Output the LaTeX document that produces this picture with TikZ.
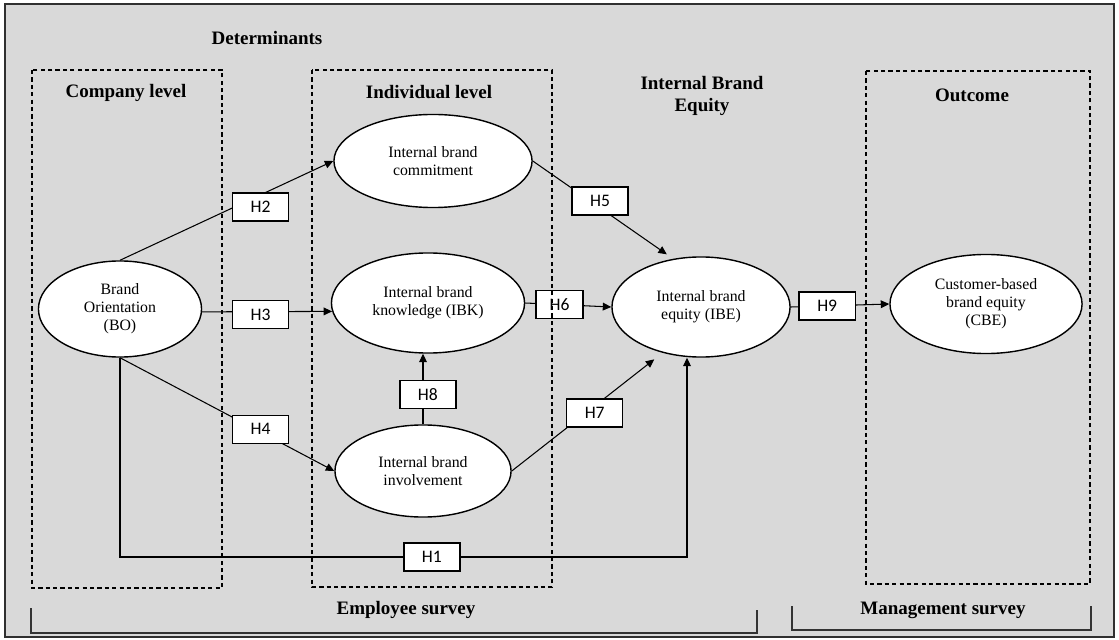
\documentclass[tikz,border=0pt]{standalone}
\usepackage{fontspec}
\setmainfont{Liberation Serif}
\newfontfamily\hfont{Carlito}
\usetikzlibrary{shapes.geometric,arrows.meta,calc}
\definecolor{bgray}{HTML}{D9D9D9}
\definecolor{frameline}{HTML}{303030}
\begin{document}
\begin{tikzpicture}[x=0.01cm,y=-0.01cm,
  ell/.style={ellipse,draw=black,line width=0.4pt,fill=white,inner sep=0pt,align=center,font=\fontsize{4.5}{5.1}\selectfont},
  hbox/.style={draw=black,line width=0.4pt,fill=white,minimum width=0.56cm,minimum height=0.28cm,inner sep=0pt,font=\hfont\fontsize{5}{6}\selectfont},
  conn/.style={line width=0.3pt},
  arr/.style={conn,-{Triangle[length=2.4pt,width=2.2pt]}},
  levelbox/.style={draw=black,dash pattern=on 1.2pt off 0.9pt,line width=0.35pt},
  head/.style={font=\bfseries\fontsize{5.4}{6.3}\selectfont,align=center,inner sep=0pt},
  bracket/.style={line width=0.45pt,draw=black!80}]
\useasboundingbox (0,0) rectangle (1119,640);
\draw[fill=bgray,draw=frameline,line width=0.6pt] (5,4) rectangle (1114,637);

% headings
\node[head] (det) at (267,38) {Determinants};
\node[head] (comp) at (126,93) {Company level};
\node[head] (indiv) at (429,92) {Individual level};
\node[head] (ibeq) at (702,96) {Internal Brand\\Equity};
\node[head] (outc) at (972,95) {Outcome};
\node[head] (emp) at (406,610) {Employee survey};
\node[head] (mgmt) at (943,610) {Management survey};

% constructs
\node[ell,minimum width=1.63cm,minimum height=0.96cm] (bo) at (120,309) {Brand\\Orientation\\(BO)};
\node[ell,minimum width=1.98cm,minimum height=0.93cm] (ibc) at (433,161) {Internal brand\\commitment};
\node[ell,minimum width=1.93cm,minimum height=1.00cm] (ibk) at (428,303) {Internal brand\\knowledge (IBK)};
\node[ell,minimum width=1.76cm,minimum height=0.92cm] (inv) at (423,471) {Internal brand\\involvement};
\node[ell,minimum width=1.78cm,minimum height=1.00cm] (ibe) at (701,307) {Internal brand\\equity (IBE)};
\node[ell,minimum width=1.92cm,minimum height=0.99cm] (cbe) at (986,304) {Customer-based\\brand equity\\(CBE)};

% connectors with hypothesis labels
\draw[arr] (bo.north) -- node[hbox,pos=0.659,yshift=-3.4pt] (h2) {H2} (ibc.west);
\draw[arr] (bo.-2) -- node[hbox,pos=0.45,yshift=-0.8pt] (h3) {H3} (ibk.185);
\draw[arr] (bo.south) -- node[hbox,pos=0.656,yshift=0.8pt] (h4) {H4} (inv.west);
\coordinate (h1e) at ($(ibe.south)+(-14,0)$);
\draw[arr] (bo.south) -- (bo.south |- 0,557) -- node[hbox,pos=0.55] (h1) {H1} (h1e |- 0,557) -- (h1e);
\draw[arr,shorten >=2.2pt] (ibc.east) -- node[hbox,pos=0.48,yshift=2pt] (h5) {H5} (ibe.120);
\draw[arr] (ibk.east) -- node[hbox,pos=0.4,minimum width=0.47cm] (h6) {H6} (ibe.west);
\draw[arr,shorten >=3pt] (inv.east) -- node[hbox,pos=0.55,yshift=-2pt] (h7) {H7} (ibe.230);
\draw[arr] (inv.north) -- node[hbox,pos=0.42,xshift=1.4pt] (h8) {H8} (inv.north |- ibk.south);
\draw[arr] (ibe.east) -- node[hbox,pos=0.37] (h9) {H9} (cbe.west);

% dashed level boxes
\draw[levelbox] (32,70) rectangle (222,588);
\draw[levelbox] (312,70) rectangle (552,587);
\draw[levelbox] (866,71) rectangle (1090,584);

% survey brackets
\draw[bracket] (31,608) -- (31,633) -- (757,633) -- (757,610);
\draw[bracket] (792,606) -- (792,630) -- (1091,630) -- (1091,606);
\end{tikzpicture}
\end{document}
